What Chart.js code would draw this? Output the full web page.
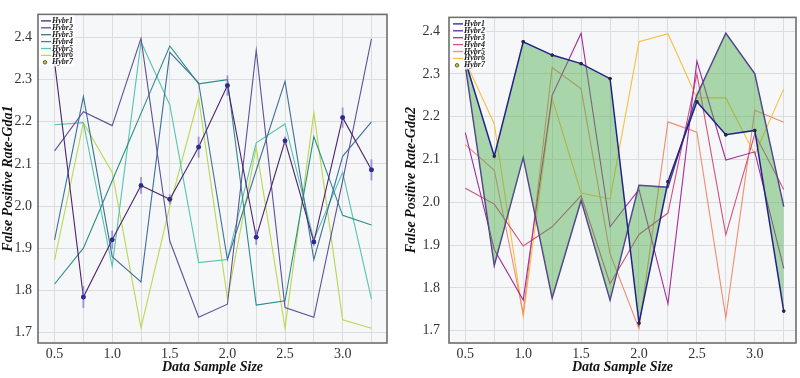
<!DOCTYPE html>
<html><head><meta charset="utf-8">
<script src="https://cdn.jsdelivr.net/npm/chart.js@4.4.1/dist/chart.umd.min.js"></script>
<style>
html,body{margin:0;padding:0;background:#fff;}
#wrap{position:relative;width:800px;height:378px;}
.box{position:absolute;top:0;width:400px;height:378px;}
canvas{display:block;}
</style></head><body>
<div id="wrap">
<div class="box" style="left:0"><canvas id="c1" width="400" height="378"></canvas></div>
<div class="box" style="left:400px"><canvas id="c2" width="400" height="378"></canvas></div>
</div>
<script>
// ---- data ----
const xValues = [0.5, 0.75, 1.0, 1.25, 1.5, 1.75, 2.0, 2.25, 2.5, 2.75, 3.0, 3.25];
const xTickValues = [0.5, 0.75, 1.0, 1.25, 1.5, 1.75, 2.0, 2.25, 2.5, 2.75, 3.0, 3.25];
const yTickValues = [1.7, 1.8, 1.9, 2.0, 2.1, 2.2, 2.3, 2.4];
const seriesNames = ['Hybr1', 'Hybr2', 'Hybr3', 'Hybr4', 'Hybr5', 'Hybr6', 'Hybr7'];

// Left panel (Gda1)
const gda1Hybr1 = [2.341, 1.784, 1.92, 2.049, 2.016, 2.14, 2.286, 1.926, 2.155, 1.915, 2.21, 2.086];
const gda1Hybr2 = [2.131, 2.224, 2.191, 2.398, 1.917, 1.736, 1.767, 2.37, 1.759, 1.736, 2.06, 2.397];
const gda1Hybr3 = [1.92, 2.26, 1.88, 1.82, 2.365, 2.293, 1.873, 2.085, 2.296, 1.873, 2.118, 2.2];
const gda1Hybr4 = [1.815, 1.9, 2.06, 2.22, 2.38, 2.29, 2.30, 1.765, 1.775, 2.165, 1.978, 1.955];
const gda1Hybr5 = [2.193, 2.198, 1.857, 2.39, 2.24, 1.866, 1.873, 2.15, 2.195, 1.92, 2.08, 1.78];
const gda1Hybr6 = [1.872, 2.198, 2.08, 1.711, 2.0, 2.257, 1.78, 2.14, 1.71, 2.222, 1.73, 1.71];
const gda1Hybr7 = [null, 1.784, 1.92, 2.049, 2.016, 2.14, 2.286, 1.926, 2.155, 1.915, 2.21, 2.086];
const gda1Hybr7Err = [0, 0.026, 0.022, 0.02, 0.012, 0.025, 0.024, 0.018, 0.01, 0.01, 0.024, 0.025];

// Right panel (Gda2)
const gda2Hybr1 = [2.33, 2.108, 2.375, 2.344, 2.324, 2.289, 1.718, 2.048, 2.235, 2.158, 2.168, 1.746];
const gda2Hybr2 = [2.32, 1.853, 2.105, 1.777, 2.005, 1.772, 2.04, 2.035, 2.25, 2.395, 2.30, 1.99];
const gda2Hybr3 = [2.163, 1.89, 1.772, 2.25, 2.395, 1.943, 2.03, 1.763, 2.33, 2.099, 2.118, 1.846];
const gda2Hybr4 = [2.033, 1.996, 1.898, 1.943, 2.016, 1.81, 1.925, 1.975, 2.30, 1.924, 2.16, 2.03];
const gda2Hybr5 = [2.135, 2.075, 1.74, 2.315, 2.265, 1.88, 1.705, 2.188, 2.164, 1.73, 2.215, 2.187];
const gda2Hybr6 = [2.33, 2.183, 1.733, 2.243, 2.022, 2.008, 2.375, 2.394, 2.244, 2.244, 2.112, 2.265];
const gda2Hybr7 = [null, 2.108, 2.375, 2.344, 2.324, 2.289, 1.718, 2.048, 2.235, 2.158, 2.168, 1.746];
const gda2Hybr7Err = [0, 0.004, 0.004, 0.004, 0.004, 0.004, 0.004, 0.004, 0.004, 0.004, 0.004, 0.004];

const leftColors = ['#4e2470', '#5e509c', '#40709a', '#2a8c8c', '#56c4b0', '#b8d850'];
const rightColors = ['#22228a', '#55309e', '#a52c9e', '#d4507e', '#f28c72', '#f8c040'];

const FONT = 'Liberation Serif';
const pts = arr => xValues.map((x, i) => ({x: x, y: arr[i]}));

function makeDatasets(series, colors, markerColor, markerRadius, fillFirst) {
  const ds = series.slice(0, 6).map((arr, i) => ({
    label: seriesNames[i], data: pts(arr), borderColor: colors[i], backgroundColor: colors[i],
    borderWidth: 1.1, pointRadius: 0, tension: 0, fill: false
  }));
  if (fillFirst) {
    ds[0].fill = '+1';
    ds[0].backgroundColor = 'rgba(76,170,76,0.45)';
    ds[0].borderWidth = 1.5;
    ds[1].borderWidth = 1.5;
  }
  ds.push({
    label: seriesNames[6], data: pts(series[6]), showLine: false, pointRadius: markerRadius,
    pointBackgroundColor: markerColor, pointBorderColor: markerColor, borderColor: markerColor,
    backgroundColor: markerColor, pointBorderWidth: 0
  });
  return ds;
}

function bgPlugin() {
  return {
    id: 'bgFrame',
    beforeDraw(chart) {
      const a = chart.chartArea, ctx = chart.ctx;
      ctx.save(); ctx.fillStyle = '#f6f7f8';
      ctx.fillRect(a.left, a.top, a.right - a.left, a.bottom - a.top); ctx.restore();
    },
    afterDraw(chart) {
      const a = chart.chartArea, ctx = chart.ctx;
      ctx.save(); ctx.strokeStyle = '#6e6e6e'; ctx.lineWidth = 1.6;
      ctx.strokeRect(a.left, a.top, a.right - a.left, a.bottom - a.top); ctx.restore();
    }
  };
}

function errPlugin(errArr, color, width) {
  return {
    id: 'errBars',
    afterDatasetsDraw(chart) {
      const ds = chart.data.datasets[6];
      const xs = chart.scales.x, ys = chart.scales.y, ctx = chart.ctx;
      ctx.save(); ctx.strokeStyle = color; ctx.lineWidth = width;
      ds.data.forEach((p, i) => {
        if (p.y == null || !errArr[i]) return;
        const px = xs.getPixelForValue(p.x);
        ctx.beginPath();
        ctx.moveTo(px, ys.getPixelForValue(p.y - errArr[i]));
        ctx.lineTo(px, ys.getPixelForValue(p.y + errArr[i]));
        ctx.stroke();
      });
      const meta = chart.getDatasetMeta(6);
      meta.data.forEach(el => { if (!el.skip) el.draw(ctx, chart.chartArea); });
      ctx.restore();
    }
  };
}

function legendPlugin(opts) {
  return {
    id: 'innerLegend',
    afterDraw(chart) {
      const a = chart.chartArea, ctx = chart.ctx;
      ctx.save();
      ctx.fillStyle = 'rgba(255,255,255,0.85)';
      ctx.fillRect(a.left + 1, a.top + 1, opts.boxW, opts.boxH);
      ctx.font = 'bold italic 8px "' + FONT + '"';
      ctx.textBaseline = 'middle';
      chart.data.datasets.forEach((d, i) => {
        const y = a.top + 6.5 + i * 6.9;
        if (i === 6) {
          ctx.beginPath(); ctx.arc(a.left + opts.lineX0 + 4, y, 1.8, 0, Math.PI * 2);
          ctx.fillStyle = opts.legendMarker; ctx.fill();
          ctx.strokeStyle = '#333'; ctx.lineWidth = 0.7; ctx.stroke();
        } else {
          ctx.beginPath(); ctx.moveTo(a.left + opts.lineX0, y); ctx.lineTo(a.left + opts.lineX1, y);
          ctx.strokeStyle = d.borderColor; ctx.lineWidth = 1.3; ctx.stroke();
        }
        ctx.fillStyle = '#222';
        ctx.fillText(d.label, a.left + opts.textX, y);
      });
      ctx.restore();
    }
  };
}

function makeChart(id, cfg) {
  new Chart(document.getElementById(id), {
    type: 'line',
    data: {datasets: cfg.datasets},
    options: {
      responsive: false, animation: false, devicePixelRatio: 1,
      layout: {padding: {left: 0, right: cfg.padRight, top: 4, bottom: 0}},
      plugins: {legend: {display: false}, tooltip: {enabled: false}},
      scales: {
        x: {
          type: 'linear', min: cfg.xMin, max: cfg.xMax,
          afterBuildTicks: s => { s.ticks = xTickValues.map(v => ({value: v})); },
          afterFit: s => { s.height = 35; },
          grid: {color: '#dcdcdc', lineWidth: 1, drawTicks: false},
          border: {display: false},
          ticks: {padding: 3, color: '#333', maxRotation: 0, autoSkip: false,
            font: {family: FONT, size: 14},
            callback: v => (Math.abs(v * 2 - Math.round(v * 2)) < 1e-6 ? v.toFixed(1) : '')},
          title: {display: true, text: 'Data Sample Size', color: '#111',
            font: {family: FONT, size: 14, weight: 'bold', style: 'italic'}, padding: {top: 0, bottom: 2}}
        },
        y: {
          type: 'linear', min: cfg.yMin, max: cfg.yMax,
          afterBuildTicks: s => { s.ticks = yTickValues.map(v => ({value: v})); },
          afterFit: s => { s.width = cfg.yWidth; },
          grid: {color: '#dcdcdc', lineWidth: 1, drawTicks: false},
          border: {display: false},
          ticks: {padding: cfg.yTickPad, color: '#333', font: {family: FONT, size: 14},
            callback: v => v.toFixed(1)},
          title: {display: true, text: cfg.yTitle, color: '#111',
            font: {family: FONT, size: 14, weight: 'bold', style: 'italic'}, padding: {top: cfg.yTitlePad, bottom: 0}}
        }
      }
    },
    plugins: [bgPlugin(), errPlugin(cfg.err, cfg.errColor, cfg.errWidth), legendPlugin(cfg.legend)]
  });
}

makeChart('c1', {
  datasets: makeDatasets([gda1Hybr1, gda1Hybr2, gda1Hybr3, gda1Hybr4, gda1Hybr5, gda1Hybr6, gda1Hybr7],
    leftColors, '#2c2c8e', 2.3, false),
  xMin: 0.356, xMax: 3.385, yMin: 1.675, yMax: 2.455,
  padRight: 13, yWidth: 38, yTickPad: 6, yTitlePad: 0, yTitle: 'False Positive Rate-Gda1',
  err: gda1Hybr7Err, errColor: 'rgba(125,110,205,0.7)', errWidth: 1.8,
  legend: {boxW: 36, boxH: 51, lineX0: 3, lineX1: 13, textX: 14, legendMarker: '#c8c040'}
});
makeChart('c2', {
  datasets: makeDatasets([gda2Hybr1, gda2Hybr2, gda2Hybr3, gda2Hybr4, gda2Hybr5, gda2Hybr6, gda2Hybr7],
    rightColors, '#26264a', 1.7, true),
  xMin: 0.359, xMax: 3.356, yMin: 1.6715, yMax: 2.432,
  padRight: 3, yWidth: 49, yTickPad: 9, yTitlePad: 3, yTitle: 'False Positive Rate-Gda2',
  err: gda2Hybr7Err, errColor: 'rgba(60,60,120,0.6)', errWidth: 1.2,
  legend: {boxW: 36, boxH: 51, lineX0: 4, lineX1: 14, textX: 15, legendMarker: '#b8c840'}
});
</script>
</body></html>
